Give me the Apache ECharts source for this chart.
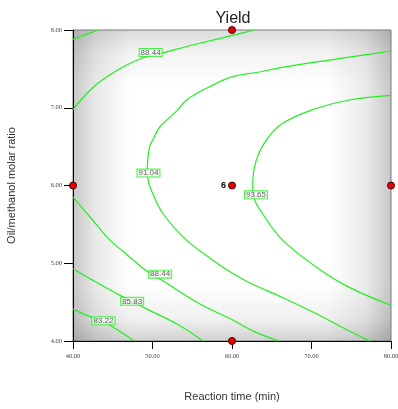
<!DOCTYPE html>
<html>
<head>
<meta charset="utf-8">
<script src="https://cdn.jsdelivr.net/npm/echarts@6/dist/echarts.min.js"></script>
<style>
  html, body { margin: 0; padding: 0; background: #fff; }
  #chart { width: 398px; height: 409px; }
</style>
</head>
<body>
<div id="chart"></div>
<script>
// Axis ranges and ticks
const xTicks = [40, 50, 60, 70, 80];
const yTicks = [4, 5, 6, 7, 8];

// Contour levels of the predicted yield
const levels = [83.22, 85.83, 88.44, 91.04, 93.65];

// Contour traces: [reaction time (min), oil/methanol molar ratio]
const contour8322 = [[40.00,4.41],[42.22,4.31],[43.86,4.25],[45.49,4.15],[47.69,4.00]];
const contour8583 = [[40.00,4.93],[42.51,4.78],[45.87,4.59],[49.13,4.42],[53.40,4.20],[56.33,4.00]];
const contour8583Corner = [[40.00,7.88],[41.60,7.94],[43.14,8.00]];
const contour8844Upper = [[40.00,6.98],[42.51,7.26],[44.61,7.42],[46.75,7.55],[48.76,7.64],[51.40,7.71],[55.92,7.83],[60.06,7.93],[62.83,8.00]];
const contour8844Lower = [[40.00,5.85],[42.51,5.55],[44.61,5.30],[46.08,5.17],[49.38,4.89],[50.89,4.80],[55.92,4.48],[60.10,4.27],[62.83,4.12],[65.88,4.00]];
const contour9104 = [[80.00,7.73],[74.76,7.65],[70.62,7.59],[66.34,7.52],[63.45,7.46],[60.06,7.40],[57.17,7.27],[54.28,7.10],[53.15,6.97],[51.77,6.84],[50.89,6.75],[50.01,6.58],[49.64,6.50],[49.39,6.32],[49.34,6.17],[49.51,6.04],[49.85,5.94],[51.31,5.64],[54.25,5.30],[57.59,5.04],[60.06,4.87],[62.20,4.75],[66.34,4.56],[70.62,4.35],[74.14,4.16],[77.28,4.00]];
const contour9365 = [[80.00,7.16],[74.76,7.10],[70.58,6.99],[66.38,6.80],[64.30,6.58],[63.04,6.32],[62.61,6.02],[62.70,5.87],[63.83,5.64],[66.34,5.30],[70.62,4.95],[74.76,4.69],[80.00,4.46]];

// Where each contour carries its value tag: [time, ratio, level index]
const labelSpots = [[49.76,7.71,2],[49.49,6.16,3],[63.02,5.88,4],[50.96,4.86,2],[47.44,4.51,1],[43.83,4.26,0]];

// Design points: [time, ratio, replicate count]
const designPoints = [[40,6,1],[60,8,1],[60,4,1],[80,6,1],[60,6,6]];

const contours = [contour8322, contour8583, contour8583Corner, contour8844Upper, contour8844Lower, contour9104, contour9365];

const green = '#22ee22';
const chart = echarts.init(document.getElementById('chart'));

const lineSeries = contours.map(c => ({
  type: 'line',
  data: c,
  smooth: 0.4,
  symbol: 'none',
  z: 5,
  lineStyle: { color: green, width: 1.2 },
  silent: true,
  animation: false
}));

// Soft grey vignette behind the plotting area
function shade(params) {
  const cs = params.coordSys;
  const shape = { x: cs.x, y: cs.y, width: cs.width, height: cs.height };
  return {
    type: 'group',
    children: [
      { type: 'rect', shape: shape, style: { fill: '#ffffff' } },
      { type: 'rect', shape: shape, style: { fill: {
        type: 'linear', x: 0, y: 0, x2: 1, y2: 0,
        colorStops: [
          { offset: 0, color: 'rgba(0,0,0,0.22)' },
          { offset: 0.07, color: 'rgba(0,0,0,0.09)' },
          { offset: 0.18, color: 'rgba(0,0,0,0)' },
          { offset: 0.80, color: 'rgba(0,0,0,0)' },
          { offset: 0.92, color: 'rgba(0,0,0,0.08)' },
          { offset: 1, color: 'rgba(0,0,0,0.22)' }
        ] } } },
      { type: 'rect', shape: shape, style: { fill: {
        type: 'linear', x: 0, y: 0, x2: 0, y2: 1,
        colorStops: [
          { offset: 0, color: 'rgba(0,0,0,0.14)' },
          { offset: 0.07, color: 'rgba(0,0,0,0.05)' },
          { offset: 0.18, color: 'rgba(0,0,0,0)' },
          { offset: 0.82, color: 'rgba(0,0,0,0)' },
          { offset: 0.93, color: 'rgba(0,0,0,0.06)' },
          { offset: 1, color: 'rgba(0,0,0,0.18)' }
        ] } } }
    ]
  };
}

const tickFont = { fontFamily: 'Liberation Serif', fontSize: 6.5, color: '#444' };

chart.setOption({
  animation: false,
  backgroundColor: '#fff',
  title: {
    text: 'Yield',
    left: 228,
    top: 6,
    textAlign: 'center',
    textStyle: { fontFamily: 'Liberation Sans', fontSize: 16, fontWeight: 'normal', color: '#222' }
  },
  grid: {
    left: 73, right: 7, top: 30, bottom: 68,
    containLabel: false, outerBoundsMode: 'none',
    show: true, backgroundColor: 'transparent', borderColor: '#7a7a7a', borderWidth: 1, z: 3
  },
  xAxis: {
    type: 'value', min: xTicks[0], max: xTicks[xTicks.length - 1], interval: 10, z: 4,
    name: 'Reaction time (min)', nameLocation: 'middle', nameGap: 50,
    nameTextStyle: { fontFamily: 'Liberation Sans', fontSize: 11, color: '#333' },
    axisLine: { lineStyle: { color: '#000', width: 1 } },
    axisTick: { length: 8, lineStyle: { color: '#000' } },
    axisLabel: Object.assign({ margin: 12, formatter: v => v.toFixed(2) }, tickFont),
    splitLine: { show: false }
  },
  yAxis: {
    type: 'value', min: yTicks[0], max: yTicks[yTicks.length - 1], interval: 1, z: 4,
    name: 'Oil/methanol molar ratio', nameLocation: 'middle', nameGap: 56,
    nameTextStyle: { fontFamily: 'Liberation Sans', fontSize: 11, color: '#333' },
    axisLine: { show: true, lineStyle: { color: '#000', width: 1 } },
    axisTick: { show: true, length: 9, lineStyle: { color: '#000' } },
    axisLabel: Object.assign({ margin: 11, formatter: v => v.toFixed(2) }, tickFont),
    splitLine: { show: false }
  },
  series: [
    {
      type: 'custom', z: 1, silent: true,
      data: [[60, 6]],
      renderItem: shade
    },
    ...lineSeries,
    {
      type: 'scatter',
      data: labelSpots.map(s => [s[0], s[1], levels[s[2]]]),
      symbolSize: 0,
      z: 6,
      silent: true,
      label: {
        show: true,
        position: 'inside',
        formatter: p => p.value[2].toFixed(2),
        fontFamily: 'Liberation Sans',
        fontSize: 8,
        color: '#333',
        backgroundColor: '#fafafa',
        borderColor: green,
        borderWidth: 1,
        padding: [0, 1, -1, 1],
        lineHeight: 8
      }
    },
    {
      type: 'scatter',
      data: designPoints,
      symbolSize: 7,
      clip: false,
      z: 7,
      silent: true,
      itemStyle: { color: '#ee0000', borderColor: '#400000', borderWidth: 1, opacity: 1 },
      label: {
        show: true,
        position: 'left',
        distance: 2,
        formatter: p => p.value[2] > 1 ? String(p.value[2]) : '',
        fontFamily: 'Liberation Sans',
        fontWeight: 'bold',
        fontSize: 9,
        color: '#000'
      }
    }
  ]
});
</script>
</body>
</html>
